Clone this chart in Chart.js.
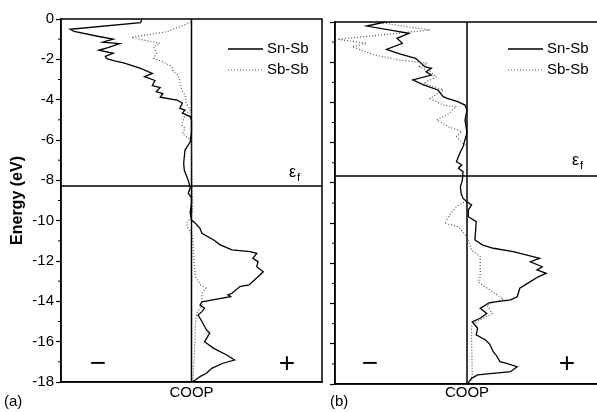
<!DOCTYPE html>
<html>
<head>
<meta charset="utf-8">
<script src="https://cdn.jsdelivr.net/npm/chart.js@4.4.0/dist/chart.umd.min.js"></script>
<style>
html, body { margin: 0; padding: 0; background: #fff; overflow: hidden; width: 597px; height: 412px; }
canvas { position: absolute; top: 0; }
#panelA { left: 0; }
#panelB { left: 330px; }
</style>
</head>
<body>
<canvas id="panelA" width="330" height="412"></canvas>
<canvas id="panelB" width="275" height="412"></canvas>
<script>
// Energy axis (eV)
const energyTicks = [0, -2, -4, -6, -8, -10, -12, -14, -16, -18];
const minorTicks = [-1, -3, -5, -7, -9, -11, -13, -15, -17];
const seriesNames = ['Sn-Sb', 'Sb-Sb'];

// Fermi levels
const fermiA = -8.28;
const fermiB = -7.66;

// (a) Sn-Sb
const snSbA_E = [0, -0.18, -0.51, -0.62, -0.88, -1.0, -1.15, -1.22, -1.42, -1.55, -1.7, -1.85, -1.97, -2.08, -2.17, -2.45, -2.7, -2.86, -3.05, -3.3, -3.4, -3.6, -3.7, -3.88, -4.02, -4.18, -4.43, -4.52, -4.66, -4.84, -5.0, -5.6, -6.1, -6.5, -7.15, -7.5, -7.75, -8.0, -8.38, -8.64, -8.87, -9.14, -9.6, -9.97, -10.13, -10.38, -10.63, -10.96, -11.2, -11.45, -11.54, -11.62, -11.87, -12.03, -12.28, -12.53, -12.78, -13.02, -13.19, -13.27, -13.6, -13.68, -13.77, -14.02, -14.18, -14.34, -14.51, -14.68, -15.0, -15.42, -15.58, -16.0, -16.33, -16.66, -16.91, -17.07, -17.32, -17.57, -17.73, -17.9, -18.0];
const snSbA_C = [-0.38, -0.39, -0.93, -0.9, -0.7, -0.6, -0.68, -0.55, -0.64, -0.71, -0.6, -0.66, -0.65, -0.59, -0.52, -0.39, -0.3, -0.36, -0.28, -0.3, -0.24, -0.27, -0.22, -0.24, -0.11, -0.07, -0.09, -0.05, -0.07, -0.01, 0.0, 0.0, -0.01, -0.05, -0.06, -0.055, -0.04, -0.025, -0.01, -0.025, 0.0, 0.0, -0.01, 0.0, 0.03, 0.065, 0.08, 0.17, 0.22, 0.31, 0.45, 0.5, 0.47, 0.51, 0.5, 0.55, 0.51, 0.47, 0.44, 0.37, 0.31, 0.28, 0.3, 0.08, 0.065, 0.1, 0.08, 0.05, 0.08, 0.115, 0.14, 0.1, 0.17, 0.27, 0.33, 0.24, 0.155, 0.115, 0.065, 0.03, 0.0];

// (a) Sb-Sb
const sbSbA_E = [0, -0.18, -0.63, -0.91, -1.04, -1.2, -1.37, -1.7, -1.95, -2.12, -2.36, -2.61, -2.78, -3.11, -3.52, -3.77, -4.18, -4.51, -4.76, -5.26, -5.42, -5.67, -5.83, -6.0, -8.0, -9.5, -9.9, -10.13, -10.38, -10.8, -11.45, -12.1, -12.78, -13.19, -13.35, -13.6, -14.18, -14.59, -15.1, -17.0, -18.0];
const sbSbA_C = [0.0, -0.01, -0.19, -0.46, -0.37, -0.24, -0.29, -0.27, -0.29, -0.22, -0.15, -0.14, -0.1, -0.09, -0.075, -0.05, -0.04, -0.01, -0.05, -0.075, -0.05, -0.07, -0.04, 0.0, 0.005, 0.01, -0.01, -0.04, -0.025, 0.01, 0.015, 0.02, 0.03, 0.07, 0.11, 0.08, 0.08, 0.04, 0.03, 0.02, 0.01];

// (b) Sn-Sb
const snSbB_E = [0, -0.2, -0.56, -0.81, -1.06, -1.36, -1.59, -1.81, -1.97, -2.22, -2.3, -2.47, -2.64, -2.88, -3.13, -3.38, -3.71, -3.8, -3.96, -4.13, -4.38, -4.87, -5.5, -6.2, -6.45, -6.95, -7.1, -7.27, -7.44, -7.86, -8.19, -8.52, -8.77, -8.94, -9.1, -9.35, -9.68, -9.93, -10.84, -11.09, -11.25, -11.42, -11.67, -11.75, -11.92, -12.17, -12.33, -12.5, -12.67, -12.91, -13.24, -13.66, -13.82, -13.95, -14.24, -14.49, -14.73, -14.9, -15.23, -15.56, -15.81, -16.0, -16.4, -16.56, -16.89, -16.97, -17.14, -17.39, -17.55, -17.72, -17.93, -18.0];
const snSbB_C = [-0.62, -0.76, -0.44, -0.53, -0.49, -0.61, -0.51, -0.39, -0.36, -0.32, -0.27, -0.31, -0.27, -0.41, -0.33, -0.22, -0.18, -0.15, -0.07, -0.015, 0.0, -0.015, 0.0, -0.03, -0.05, -0.08, -0.04, -0.065, -0.03, -0.035, -0.05, -0.045, -0.03, 0.0, 0.035, 0.01, 0.01, 0.07, 0.06, 0.12, 0.2, 0.35, 0.5, 0.55, 0.48, 0.57, 0.53, 0.6, 0.54, 0.48, 0.4, 0.38, 0.33, 0.17, 0.1, 0.15, 0.1, 0.04, 0.08, 0.07, 0.14, 0.17, 0.2, 0.22, 0.25, 0.3, 0.38, 0.33, 0.08, 0.035, 0.01, 0.0];

// (b) Sb-Sb
const sbSbB_E = [-0.03, -0.4, -0.86, -1.06, -1.23, -1.64, -1.89, -2.05, -2.22, -2.47, -2.72, -3.05, -3.38, -3.8, -4.13, -4.21, -4.62, -4.87, -5.21, -5.45, -5.7, -6.03, -6.2, -8.6, -8.85, -9.18, -9.35, -9.51, -10.01, -10.18, -10.68, -11.34, -11.67, -12.0, -12.67, -12.91, -13.0, -13.78, -14.07, -14.49, -14.57, -14.98, -15.15, -15.9, -17.55, -18.0];
const sbSbB_C = [-0.66, -0.28, -0.98, -0.76, -0.87, -0.7, -0.51, -0.3, -0.36, -0.28, -0.23, -0.33, -0.18, -0.28, -0.18, -0.08, -0.15, -0.23, -0.14, -0.04, -0.08, -0.03, 0.0, 0.0, 0.0, -0.08, -0.1, -0.12, -0.17, -0.065, 0.0, 0.035, 0.1, 0.1, 0.1, 0.085, 0.1, 0.275, 0.15, 0.19, 0.17, 0.05, 0.035, 0.035, 0.04, 0.02];

const FONT = '"Liberation Sans", Arial, sans-serif';
Chart.defaults.font.family = FONT;
Chart.defaults.color = '#000';

function toPoints(E, C) {
    return E.map((e, i) => ({ x: C[i], y: e }));
}

function makePanel(id, p) {
    // frame, minor ticks, legend and labels
    const decor = {
        id: 'decor',
        afterDraw(chart) {
            const { ctx, chartArea: a, scales: { y } } = chart;
            ctx.save();
            ctx.strokeStyle = '#000';
            ctx.lineWidth = 1.5;
            ctx.strokeRect(a.left, a.top, a.right - a.left, a.bottom - a.top);

            ctx.lineWidth = 1;
            minorTicks.forEach(v => {
                const py = y.getPixelForValue(v);
                ctx.beginPath();
                ctx.moveTo(a.left - 3, py);
                ctx.lineTo(a.left, py);
                ctx.stroke();
            });

            // legend
            ctx.font = '15px ' + FONT;
            ctx.fillStyle = '#000';
            ctx.textBaseline = 'middle';
            ctx.textAlign = 'left';
            [0, 1].forEach(i => {
                const ds = chart.data.datasets[i];
                const ly = p.legendY + i * 21;
                ctx.strokeStyle = ds.borderColor;
                ctx.lineWidth = ds.borderWidth;
                ctx.setLineDash(ds.borderDash || []);
                ctx.beginPath();
                ctx.moveTo(p.legendX, ly);
                ctx.lineTo(p.legendX + 35, ly);
                ctx.stroke();
                ctx.setLineDash([]);
                ctx.fillText(ds.label, p.legendX + 39, ly);
            });

            // epsilon_f
            ctx.textBaseline = 'alphabetic';
            ctx.font = '16px ' + FONT;
            ctx.fillText('ε', p.epsX, p.epsY);
            ctx.font = '11px ' + FONT;
            ctx.fillText('f', p.epsX + 8, p.epsY + 4);

            // bonding / antibonding signs
            ctx.font = '28px ' + FONT;
            ctx.textAlign = 'center';
            ctx.textBaseline = 'middle';
            ctx.fillText('\u2212', p.minusX, p.signY);
            ctx.fillText('+', p.plusX, p.signY);

            ctx.font = '15px ' + FONT;
            ctx.textAlign = 'left';
            ctx.fillText(p.tag, p.tagX, 402);
            ctx.restore();
        }
    };

    return new Chart(document.getElementById(id), {
        type: 'scatter',
        data: {
            datasets: [
                {
                    label: seriesNames[0],
                    data: toPoints(p.snE, p.snC),
                    showLine: true,
                    borderColor: '#000',
                    borderWidth: 1.3,
                    pointRadius: 0
                },
                {
                    label: seriesNames[1],
                    data: toPoints(p.sbE, p.sbC),
                    showLine: true,
                    borderColor: '#555',
                    borderWidth: 1.2,
                    borderDash: [1, 2],
                    pointRadius: 0
                },
                {
                    label: 'zero',
                    data: [{ x: 0, y: 0 }, { x: 0, y: -18 }],
                    showLine: true,
                    borderColor: '#000',
                    borderWidth: 1.5,
                    pointRadius: 0
                },
                {
                    label: 'fermi',
                    data: [{ x: -1, y: p.fermi }, { x: 1, y: p.fermi }],
                    showLine: true,
                    borderColor: '#000',
                    borderWidth: 1.5,
                    pointRadius: 0
                }
            ]
        },
        options: {
            responsive: false,
            animation: false,
            layout: { padding: { top: p.top, right: p.right, left: 0, bottom: 0 } },
            plugins: { legend: { display: false }, tooltip: { enabled: false } },
            scales: {
                x: {
                    min: -1,
                    max: 1,
                    grid: { display: false },
                    border: { display: true, color: '#000', width: 1.5 },
                    ticks: { display: false },
                    title: {
                        display: true,
                        text: 'COOP',
                        font: { size: 15 },
                        padding: { top: 0, bottom: 10 }
                    },
                    afterFit: s => { s.height = p.xHeight; }
                },
                y: {
                    min: -18,
                    max: 0,
                    afterBuildTicks: s => { s.ticks = energyTicks.map(v => ({ value: v })); },
                    grid: {
                        drawOnChartArea: false,
                        drawTicks: true,
                        tickLength: 5,
                        tickWidth: 1.2,
                        tickColor: '#000'
                    },
                    border: { display: true, color: '#000', width: 1.5 },
                    ticks: {
                        display: p.showLabels,
                        padding: 2,
                        font: { size: 15 },
                        callback: v => String(v)
                    },
                    title: {
                        display: p.showLabels,
                        text: 'Energy (eV)',
                        font: { size: 16, weight: 'bold' },
                        padding: { top: 8, bottom: 0 }
                    },
                    afterFit: s => { s.width = p.yWidth; }
                }
            }
        },
        plugins: [decor]
    });
}

makePanel('panelA', {
    snE: snSbA_E, snC: snSbA_C, sbE: sbSbA_E, sbC: sbSbA_C, fermi: fermiA,
    top: 19, right: 8, yWidth: 61, xHeight: 30, showLabels: true,
    legendX: 228, legendY: 49, epsX: 289, epsY: 177,
    minusX: 98, plusX: 287, signY: 364, tag: '(a)', tagX: 4
});

makePanel('panelB', {
    snE: snSbB_E, snC: snSbB_C, sbE: sbSbB_E, sbC: sbSbB_C, fermi: fermiB,
    top: 22, right: 6, yWidth: 5, xHeight: 28, showLabels: false,
    legendX: 178, legendY: 49, epsX: 242, epsY: 165,
    minusX: 40, plusX: 237, signY: 364, tag: '(b)', tagX: 0
});
</script>
</body>
</html>
